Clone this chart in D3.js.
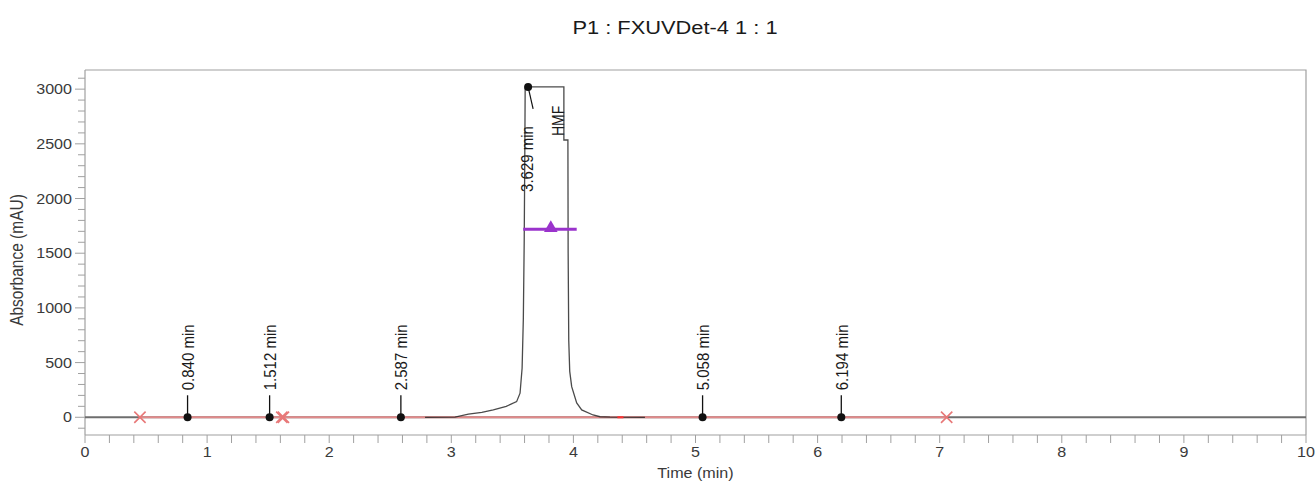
<!DOCTYPE html>
<html>
<head>
<meta charset="utf-8">
<script src="https://cdn.jsdelivr.net/npm/d3@7"></script>
<style>
  html, body { margin: 0; padding: 0; background: #fff; }
  svg { display: block; font-family: "Liberation Sans", Arial, sans-serif; }
</style>
</head>
<body>
<svg id="chart" width="1315" height="481"></svg>
<script>
// Chromatogram trace around the HMF peak (time in min, absorbance in mAU)
const traceTime = [2.785, 3.03, 3.14, 3.25, 3.344, 3.45, 3.535, 3.563, 3.58, 3.59, 3.597, 3.602, 3.605,
                   3.922, 3.922, 3.955, 3.957, 3.962, 3.970, 3.986, 4.027, 4.068, 4.161, 4.218, 4.30, 4.586];
const traceMAU  = [0, 2, 28, 45, 67, 100, 143, 220, 450, 900, 1600, 2400, 3020,
                   3020, 2535, 2535, 1500, 700, 420, 280, 131, 67, 21, 5, 2, 0];

// Small peaks found by integration
const peakTimes  = [0.840, 1.512, 2.587, 5.058, 6.194];
const peakLabels = ["0.840 min", "1.512 min", "2.587 min", "5.058 min", "6.194 min"];

// Main peak
const mainPeakTime = 3.629;
const mainPeakTop = 3020;
const mainPeakLabel = "3.629 min";
const mainPeakName = "HMF";

// Width at half height marker
const halfWidthStart = 3.589, halfWidthEnd = 4.027, halfWidthApex = 3.815, halfHeight = 1720;

// Integration baseline and event markers
const baselineStart = 0.45, baselineEnd = 7.057;
const eventTimes = [0.45, 1.612, 1.625, 7.057];
const peakEndMark = [4.36, 4.41];

// Axes
const xTicks = [0, 1, 2, 3, 4, 5, 6, 7, 8, 9, 10];
const yTicks = [0, 500, 1000, 1500, 2000, 2500, 3000];
const xDomain = [0, 10];
const yDomain = [-162, 3175];

const title = "P1 : FXUVDet-4 1 : 1";
const xTitle = "Time (min)";
const yTitle = "Absorbance (mAU)";

const svg = d3.select("#chart");
const plotLeft = 85, plotRight = 1306, plotTop = 70, plotBottom = 435;
const SX = 1.15; // horizontal glyph stretch

const x = d3.scaleLinear().domain(xDomain).range([plotLeft, plotRight]);
const y = d3.scaleLinear().domain(yDomain).range([plotBottom, plotTop]);

const frameColor = "#a0a0a0";
const textColor = "#3a3a3a";

// Title
svg.append("text")
  .attr("transform", `translate(675,34) scale(${SX},1)`)
  .attr("text-anchor", "middle")
  .attr("font-size", 19)
  .attr("fill", "#1a1a1a")
  .text(title);

// Frame (top and right)
svg.append("path")
  .attr("d", `M${plotLeft},${plotTop}H${plotRight}V${plotBottom}`)
  .attr("fill", "none").attr("stroke", frameColor).attr("stroke-width", 1.2);

// X axis
const xAxis = svg.append("g").attr("transform", `translate(0,${plotBottom})`);
xAxis.append("line").attr("x1", plotLeft).attr("x2", plotRight)
  .attr("stroke", frameColor).attr("stroke-width", 1.2);
xAxis.selectAll("line.minor")
  .data(d3.range(0, 10.001, 0.2))
  .join("line").attr("class", "minor")
  .attr("x1", d => x(d)).attr("x2", d => x(d))
  .attr("y1", 0).attr("y2", 8)
  .attr("stroke", frameColor).attr("stroke-width", 1);
xAxis.selectAll("text")
  .data(xTicks)
  .join("text")
  .attr("transform", d => `translate(${x(d)},22) scale(${SX},1)`)
  .attr("text-anchor", "middle")
  .attr("font-size", 14)
  .attr("fill", textColor)
  .text(d => d);

// Y axis
const yAxis = svg.append("g").attr("transform", `translate(${plotLeft},0)`);
yAxis.append("line").attr("y1", plotTop).attr("y2", plotBottom)
  .attr("stroke", frameColor).attr("stroke-width", 1.2);
yAxis.selectAll("line.minor")
  .data(d3.range(-100, 3101, 100))
  .join("line").attr("class", "minor")
  .attr("x1", d => yTicks.includes(d) ? -10 : -7).attr("x2", 0)
  .attr("y1", d => y(d)).attr("y2", d => y(d))
  .attr("stroke", frameColor).attr("stroke-width", 1);
yAxis.selectAll("text")
  .data(yTicks)
  .join("text")
  .attr("transform", d => `translate(-13,${y(d) + 5}) scale(${SX},1)`)
  .attr("text-anchor", "end")
  .attr("font-size", 14)
  .attr("fill", textColor)
  .text(d => d);

// Axis titles
svg.append("text")
  .attr("transform", `translate(${(plotLeft + plotRight) / 2},478) scale(${SX},1)`)
  .attr("text-anchor", "middle")
  .attr("font-size", 14)
  .attr("fill", textColor)
  .text(xTitle);
svg.append("text")
  .attr("transform", `translate(23,260) scale(${SX},1) rotate(-90)`)
  .attr("text-anchor", "middle")
  .attr("font-size", 15.5)
  .attr("fill", textColor)
  .text(yTitle);

// Detector zero line
svg.append("line")
  .attr("x1", x(0)).attr("x2", x(10)).attr("y1", y(0)).attr("y2", y(0))
  .attr("stroke", "#6e6e6e").attr("stroke-width", 2);

// Integration baseline
svg.append("line")
  .attr("x1", x(baselineStart)).attr("x2", x(baselineEnd)).attr("y1", y(0)).attr("y2", y(0))
  .attr("stroke", "#e28a8a").attr("stroke-width", 2);

// Chromatogram trace
const line = d3.line().x((d, i) => x(traceTime[i])).y(d => y(d));
svg.append("path")
  .attr("d", line(traceMAU))
  .attr("fill", "none")
  .attr("stroke", "#2a2a2a")
  .attr("stroke-opacity", 0.85)
  .attr("stroke-width", 1.3);
svg.append("line")
  .attr("x1", x(peakEndMark[0])).attr("x2", x(peakEndMark[1])).attr("y1", y(0)).attr("y2", y(0))
  .attr("stroke", "#ff3030").attr("stroke-width", 2);

// Integration event markers
svg.selectAll("path.evt")
  .data(eventTimes)
  .join("path").attr("class", "evt")
  .attr("transform", d => `translate(${x(d)},${y(0)}) rotate(45)`)
  .attr("d", "M-8,0H8M0,-8V8")
  .attr("stroke", "#e87878").attr("stroke-width", 1.6).attr("fill", "none");

// Small peak markers with labels
const pk = svg.selectAll("g.peak")
  .data(peakTimes)
  .join("g").attr("class", "peak");
pk.append("line")
  .attr("x1", d => x(d)).attr("x2", d => x(d))
  .attr("y1", y(0)).attr("y2", y(0) - 22)
  .attr("stroke", "#111").attr("stroke-width", 1.3);
pk.append("circle")
  .attr("cx", d => x(d)).attr("cy", y(0)).attr("r", 4)
  .attr("fill", "#111");
pk.append("text")
  .attr("transform", d => `translate(${x(d)},${y(0) - 27}) scale(${SX},1) rotate(-90)`)
  .attr("dy", "0.36em")
  .attr("font-size", 15)
  .attr("fill", "#1a1a1a")
  .text((d, i) => peakLabels[i]);

// Main peak marker, label and name
const mx = x(mainPeakTime), my = y(mainPeakTop);
svg.append("line")
  .attr("x1", mx).attr("y1", my).attr("x2", mx + 5).attr("y2", my + 22)
  .attr("stroke", "#111").attr("stroke-width", 1.2);
svg.append("circle").attr("cx", mx).attr("cy", my).attr("r", 4).attr("fill", "#111");
svg.append("text")
  .attr("transform", `translate(${mx - 1},${my + 105}) scale(${SX},1) rotate(-90)`)
  .attr("dy", "0.36em")
  .attr("font-size", 15)
  .attr("fill", "#1a1a1a")
  .text(mainPeakLabel);
svg.append("text")
  .attr("transform", `translate(${x(3.875)},${my + 34}) scale(${SX},1) rotate(-90)`)
  .attr("text-anchor", "middle")
  .attr("dy", "0.36em")
  .attr("font-size", 14)
  .attr("fill", "#1a1a1a")
  .text(mainPeakName);

// Width at half height
svg.append("line")
  .attr("x1", x(halfWidthStart)).attr("x2", x(halfWidthEnd))
  .attr("y1", y(halfHeight)).attr("y2", y(halfHeight))
  .attr("stroke", "#9a33cc").attr("stroke-width", 3);
svg.append("path")
  .attr("transform", `translate(${x(halfWidthApex)},${y(halfHeight) - 1})`)
  .attr("d", d3.symbol(d3.symbolTriangle, 80)())
  .attr("fill", "#9a33cc");
</script>
</body>
</html>
